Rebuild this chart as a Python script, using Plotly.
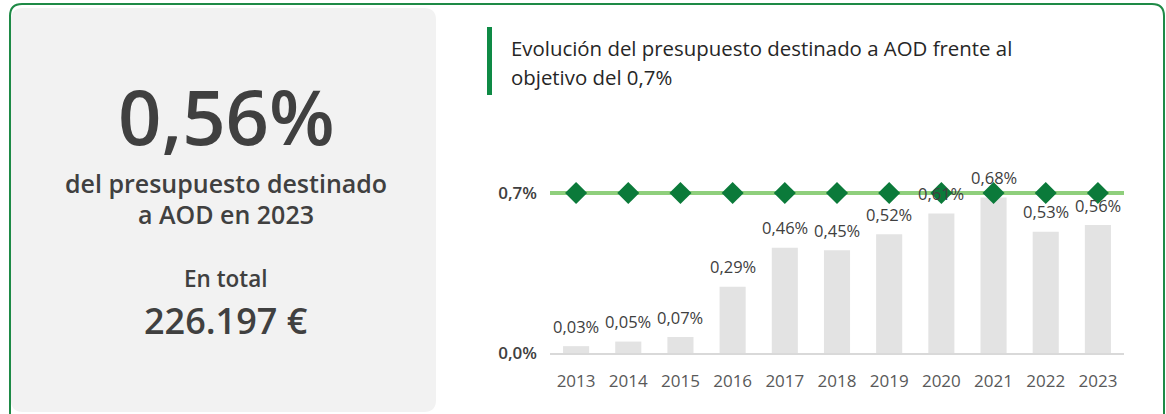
import plotly.graph_objects as go

W, H = 1166, 414

years = ["2013", "2014", "2015", "2016", "2017", "2018", "2019", "2020", "2021", "2022", "2023"]
aod_pct = [0.03, 0.05, 0.07, 0.29, 0.46, 0.45, 0.52, 0.61, 0.68, 0.53, 0.56]
target_pct = [0.7, 0.7, 0.7, 0.7, 0.7, 0.7, 0.7, 0.7, 0.7, 0.7, 0.7]
bar_labels = ["0,03%", "0,05%", "0,07%", "0,29%", "0,46%", "0,45%", "0,52%", "0,61%", "0,68%", "0,53%", "0,56%"]
ytick_vals = [0.0, 0.7]
ytick_text = ["0,0%", "0,7%"]

headline = "0,56%"
sub1 = "del presupuesto destinado"
sub2 = "a AOD en 2023"
total_label = "En total"
total_value = "226.197 €"
title_lines = ["Evolución del presupuesto destinado a AOD frente al", "objetivo del 0,7%"]

FONT = "Open Sans"
DARK = "#404040"


def px(x):
    return x / W


def py(y):
    return 1 - y / H


def rounded_rect(x0, y0, x1, y1, r):
    pts = [
        f"M {px(x0 + r)} {py(y0)}",
        f"L {px(x1 - r)} {py(y0)}",
        f"Q {px(x1)} {py(y0)} {px(x1)} {py(y0 + r)}",
        f"L {px(x1)} {py(y1 - r)}",
        f"Q {px(x1)} {py(y1)} {px(x1 - r)} {py(y1)}",
        f"L {px(x0 + r)} {py(y1)}",
        f"Q {px(x0)} {py(y1)} {px(x0)} {py(y1 - r)}",
        f"L {px(x0)} {py(y0 + r)}",
        f"Q {px(x0)} {py(y0)} {px(x0 + r)} {py(y0)}",
        "Z",
    ]
    return " ".join(pts)


fig = go.Figure()

fig.add_trace(go.Bar(
    x=years, y=aod_pct, width=0.5,
    marker=dict(color="#e3e3e3", line=dict(width=0)),
    hoverinfo="skip", showlegend=False,
))

fig.add_trace(go.Scatter(
    x=years, y=target_pct, mode="markers",
    marker=dict(symbol="diamond", size=17, color="#0b7a3a", line=dict(width=0)),
    hoverinfo="skip", showlegend=False, cliponaxis=False,
))

shapes = [
    dict(type="path", xref="paper", yref="paper", path=rounded_rect(10, 4, 1164, 440, 12),
         line=dict(color="#1e8a46", width=2), fillcolor="rgba(0,0,0,0)", layer="below"),
    dict(type="path", xref="paper", yref="paper", path=rounded_rect(11, 8, 436, 412, 12),
         line=dict(width=0), fillcolor="#f2f2f2", layer="below"),
    dict(type="rect", xref="paper", yref="paper", x0=px(487), x1=px(492), y0=py(95), y1=py(27),
         line=dict(width=0), fillcolor="#0e8a45", layer="below"),
    dict(type="line", xref="x domain", yref="y", x0=0, x1=1, y0=target_pct[0], y1=target_pct[0],
         line=dict(color="#8fcf7c", width=4), layer="below"),
]

annotations = []
for i, (v, lab) in enumerate(zip(aod_pct, bar_labels)):
    annotations.append(dict(x=i, y=v, xref="x", yref="y", text=lab, showarrow=False,
                            yanchor="middle", yshift=20,
                            font=dict(family=FONT, size=16.5, color=DARK)))

cx = px(226)
annotations += [
    dict(x=cx, y=py(115), xref="paper", yref="paper", text=headline, showarrow=False,
         xanchor="center", yanchor="middle", font=dict(family=FONT, size=76, color=DARK, weight=600)),
    dict(x=cx, y=py(183), xref="paper", yref="paper", text=sub1, showarrow=False,
         xanchor="center", yanchor="middle", font=dict(family=FONT, size=25, color=DARK, weight=600)),
    dict(x=cx, y=py(214), xref="paper", yref="paper", text=sub2, showarrow=False,
         xanchor="center", yanchor="middle", font=dict(family=FONT, size=25, color=DARK, weight=600)),
    dict(x=cx, y=py(278), xref="paper", yref="paper", text=total_label, showarrow=False,
         xanchor="center", yanchor="middle", font=dict(family=FONT, size=22.5, color=DARK, weight=600)),
    dict(x=cx, y=py(320), xref="paper", yref="paper", text=total_value, showarrow=False,
         xanchor="center", yanchor="middle", font=dict(family=FONT, size=36, color=DARK, weight=600)),
    dict(x=px(509), y=py(48), xref="paper", yref="paper", text=title_lines[0], showarrow=False,
         xanchor="left", yanchor="middle", font=dict(family=FONT, size=20.4, color="#262626")),
    dict(x=px(509), y=py(77), xref="paper", yref="paper", text=title_lines[1], showarrow=False,
         xanchor="left", yanchor="middle", font=dict(family=FONT, size=20.4, color="#262626")),
]

y_bottom_px, y_top_px = 353, 150
scale = (353 - 193) / 0.7
y_top_val = (y_bottom_px - y_top_px) / scale

fig.update_layout(
    width=W, height=H,
    margin=dict(l=0, r=0, t=0, b=0, pad=0),
    paper_bgcolor="white", plot_bgcolor="rgba(0,0,0,0)",
    showlegend=False,
    shapes=shapes, annotations=annotations,
    xaxis=dict(domain=[px(550), px(1124)], type="category", range=[-0.5, len(years) - 0.5],
               autorange=False, automargin=False, showgrid=False, zeroline=False,
               showline=True, linecolor="#d9d9d9", linewidth=2, ticks="",
               ticklabelstandoff=12,
               tickfont=dict(family=FONT, size=17, color="#595959")),
    yaxis=dict(domain=[py(y_bottom_px), py(y_top_px)], range=[0, y_top_val], autorange=False,
               automargin=False, showgrid=False, zeroline=False, showline=False,
               tickvals=ytick_vals, ticktext=ytick_text,
               ticks="", ticklabelstandoff=12,
               tickfont=dict(family=FONT, size=17, color=DARK, weight=600)),
)

fig.write_html("out.html", post_script="document.body.style.margin='0';",
               config={"displayModeBar": False})
